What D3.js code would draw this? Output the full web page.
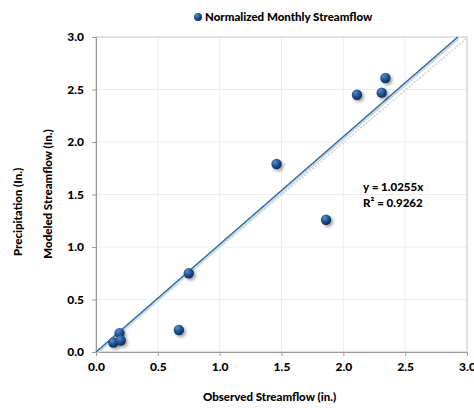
<!DOCTYPE html>
<html>
<head>
<meta charset="utf-8">
<script src="https://cdn.jsdelivr.net/npm/d3@7"></script>
<style>
  body { margin: 0; background: #fff; }
  text { font-family: Lato, "Open Sans", sans-serif; font-weight: 900; fill: #000; }
</style>
</head>
<body>
<div id="chart"></div>
<script>
// observed vs modeled monthly streamflow (in.)
var observed = [2.34, 2.31, 2.11, 1.46, 1.86, 0.75, 0.67, 0.19, 0.14, 0.20];
var modeled  = [2.61, 2.47, 2.45, 1.79, 1.26, 0.75, 0.21, 0.18, 0.09, 0.11];
var ticks = [0, 0.5, 1.0, 1.5, 2.0, 2.5, 3.0];
var slope = 1.0255;
var rSquared = 0.9262;
var seriesName = "Normalized Monthly Streamflow";

var width = 474, height = 408;
var margin = {top: 37, right: 7, bottom: 56, left: 96};
var w = width - margin.left - margin.right;
var h = height - margin.top - margin.bottom;

var svg = d3.select("#chart").append("svg")
    .attr("width", width)
    .attr("height", height);

var defs = svg.append("defs");
var grad = defs.append("radialGradient")
    .attr("id", "ball")
    .attr("cx", "35%").attr("cy", "30%").attr("r", "70%");
grad.append("stop").attr("offset", "0%").attr("stop-color", "#5d8fc6");
grad.append("stop").attr("offset", "55%").attr("stop-color", "#1f5495");
grad.append("stop").attr("offset", "100%").attr("stop-color", "#0e2f5c");

var shadow = defs.append("filter").attr("id", "shadow")
    .attr("x", "-50%").attr("y", "-50%").attr("width", "200%").attr("height", "200%");
shadow.append("feDropShadow")
    .attr("dx", 2).attr("dy", 2).attr("stdDeviation", 1.5)
    .attr("flood-color", "#000").attr("flood-opacity", 0.35);

var g = svg.append("g")
    .attr("transform", "translate(" + margin.left + "," + margin.top + ")");

var x = d3.scaleLinear().domain([0, 3]).range([0, w]);
var y = d3.scaleLinear().domain([0, 3]).range([h, 0]);

// grid
g.selectAll(".vgrid")
    .data(ticks.slice(1, -1))
    .enter().append("line")
    .attr("x1", function(d) { return x(d); })
    .attr("x2", function(d) { return x(d); })
    .attr("y1", 0).attr("y2", h)
    .attr("stroke", "#ededed");
g.selectAll(".hgrid")
    .data(ticks.slice(1, -1))
    .enter().append("line")
    .attr("y1", function(d) { return y(d); })
    .attr("y2", function(d) { return y(d); })
    .attr("x1", 0).attr("x2", w)
    .attr("stroke", "#ededed");

// frame
g.append("rect")
    .attr("width", w).attr("height", h)
    .attr("fill", "none")
    .attr("stroke", "#c4c4c4");

// axes
var xAxis = g.append("g")
    .attr("transform", "translate(0," + h + ")")
    .call(d3.axisBottom(x).tickValues(ticks).tickFormat(d3.format(".1f")).tickSize(4).tickPadding(6));
var yAxis = g.append("g")
    .call(d3.axisLeft(y).tickValues(ticks).tickFormat(d3.format(".1f")).tickSize(4).tickPadding(8));
[xAxis, yAxis].forEach(function(a) {
    a.select(".domain").attr("stroke", "#9a9a9a");
    a.selectAll(".tick line").attr("stroke", "#9a9a9a");
    a.selectAll(".tick text")
        .style("font-family", "Lato, sans-serif")
        .style("font-weight", "900")
        .style("font-size", "12px")
        .attr("fill", "#000");
});

// 1:1 line
g.append("line")
    .attr("x1", x(0)).attr("y1", y(0))
    .attr("x2", x(3)).attr("y2", y(3) + 1)
    .attr("stroke", "#d2d2d2")
    .attr("stroke-width", 1.5)
    .attr("stroke-dasharray", "2,1.5");

// trend line y = slope * x, clipped to the plot
var xEnd = Math.min(3, 3 / slope);
g.append("line")
    .attr("x1", x(0)).attr("y1", y(0))
    .attr("x2", x(xEnd)).attr("y2", y(slope * xEnd))
    .attr("stroke", "#c9d9e8")
    .attr("stroke-width", 2)
    .attr("transform", "translate(1,1.5)");
g.append("line")
    .attr("x1", x(0)).attr("y1", y(0))
    .attr("x2", x(xEnd)).attr("y2", y(slope * xEnd))
    .attr("stroke", "#2f6a9c")
    .attr("stroke-width", 1.5);

// points
var pts = observed.map(function(o, i) { return {obs: o, mod: modeled[i]}; });
g.selectAll(".dot")
    .data(pts)
    .enter().append("circle")
    .attr("cx", function(d) { return x(d.obs); })
    .attr("cy", function(d) { return y(d.mod); })
    .attr("r", 5.2)
    .attr("fill", "url(#ball)")
    .attr("filter", "url(#shadow)");

// equation
g.append("text")
    .attr("x", x(2.16)).attr("y", y(1.535))
    .style("font-size", "11.5px")
    .text("y = " + slope + "x");
g.append("text")
    .attr("x", x(2.16)).attr("y", y(1.38))
    .style("font-size", "11.5px")
    .text("R\u00b2 = " + rSquared);

// legend
svg.append("circle")
    .attr("cx", 198).attr("cy", 17).attr("r", 4)
    .attr("fill", "url(#ball)");
svg.append("text")
    .attr("x", 205).attr("y", 21)
    .style("font-size", "11.5px")
    .text(seriesName);

// axis titles
svg.append("text")
    .attr("x", margin.left + w / 2 - 12).attr("y", 401)
    .attr("text-anchor", "middle")
    .style("font-size", "11.5px")
    .text("Observed Streamflow (in.)");
svg.append("text")
    .attr("transform", "translate(52,194) rotate(-90)")
    .attr("text-anchor", "middle")
    .style("font-size", "11.5px")
    .text("Modeled Streamflow (In.)");
svg.append("text")
    .attr("transform", "translate(22,212) rotate(-90)")
    .attr("text-anchor", "middle")
    .style("font-size", "11.5px")
    .text("Precipitation (In.)");
</script>
</body>
</html>
